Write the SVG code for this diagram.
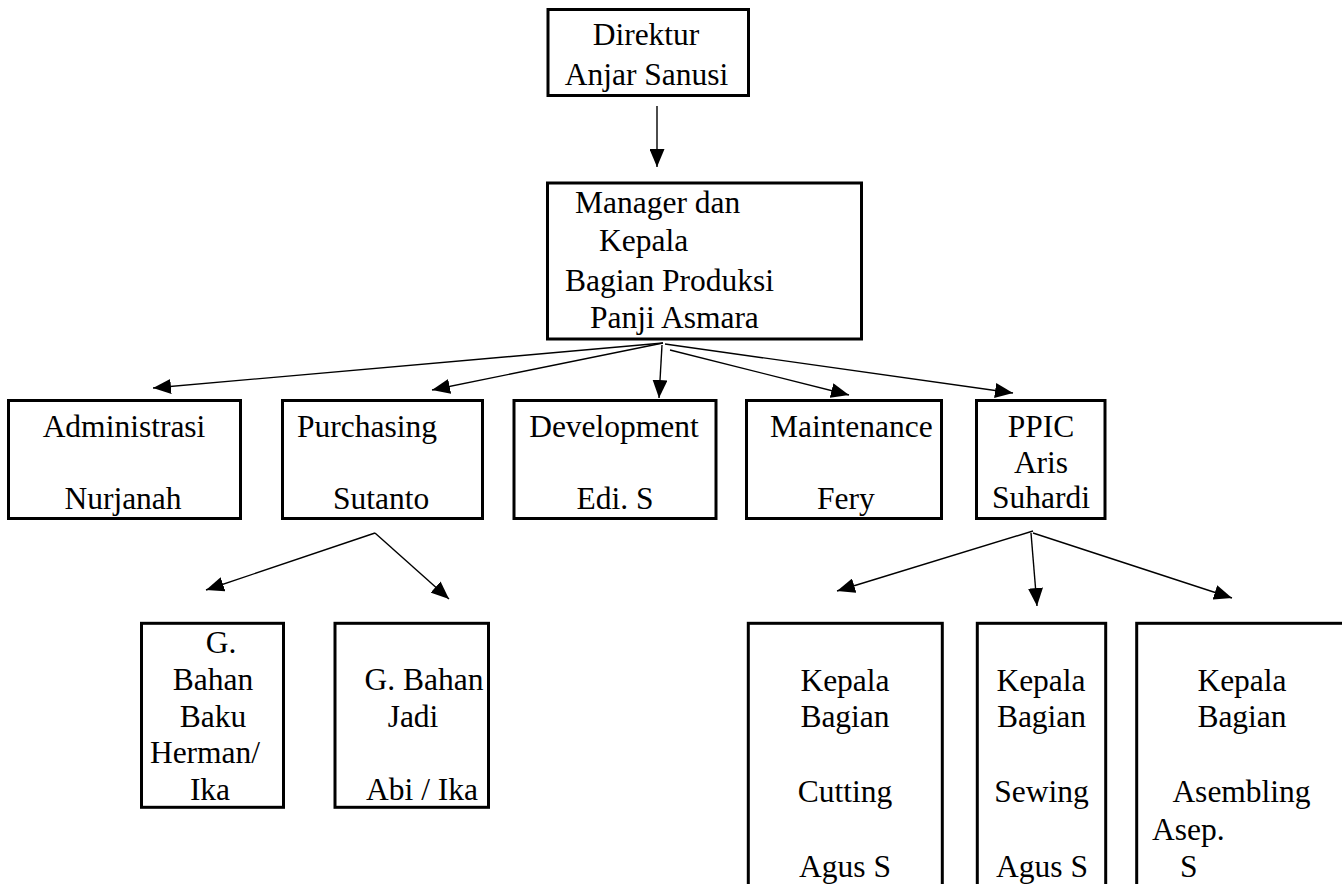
<svg xmlns="http://www.w3.org/2000/svg" width="1342" height="884" viewBox="0 0 1342 884">
<style>
.box{fill:#fff;stroke:#000;stroke-width:3}
.t{font-family:"Liberation Serif","Times New Roman",serif;font-size:31.5px;fill:#000}
.m{text-anchor:middle}
.c{fill:none;stroke:#000;stroke-width:1.4}
</style>
<defs>
<marker id="ah" markerUnits="userSpaceOnUse" markerWidth="18" markerHeight="15" refX="18" refY="7.5" orient="auto">
<path d="M0,0 L18,7.5 L0,15 z" fill="#000"/>
</marker>
</defs>
<rect width="1342" height="884" fill="#fff"/>
<g id="connectors">
<line class="c" x1="657" y1="106" x2="657" y2="167" marker-end="url(#ah)"/>
<line class="c" x1="663" y1="343" x2="153" y2="388" marker-end="url(#ah)"/>
<line class="c" x1="663" y1="343" x2="432" y2="390" marker-end="url(#ah)"/>
<line class="c" x1="662" y1="345" x2="659" y2="398" marker-end="url(#ah)"/>
<line class="c" x1="670" y1="350" x2="849" y2="395" marker-end="url(#ah)"/>
<line class="c" x1="665" y1="344" x2="1013" y2="393" marker-end="url(#ah)"/>
<line class="c" x1="375" y1="533" x2="206" y2="590" marker-end="url(#ah)"/>
<line class="c" x1="375" y1="533" x2="449" y2="599" marker-end="url(#ah)"/>
<line class="c" x1="1033" y1="531" x2="837" y2="591" marker-end="url(#ah)"/>
<line class="c" x1="1031" y1="533" x2="1037" y2="606" marker-end="url(#ah)"/>
<line class="c" x1="1033" y1="533" x2="1232" y2="598" marker-end="url(#ah)"/>
</g>
<g id="direktur">
<rect class="box" x="548" y="9.5" width="200.5" height="86"/>
<text class="t m" x="646" y="45">Direktur</text>
<text class="t m" x="646.5" y="85">Anjar Sanusi</text>
</g>
<g id="manager">
<rect class="box" x="547.5" y="183" width="314" height="156"/>
<text class="t" x="575" y="213">Manager dan</text>
<text class="t" x="599" y="251">Kepala</text>
<text class="t" x="565" y="291">Bagian Produksi</text>
<text class="t" x="590" y="328">Panji Asmara</text>
</g>
<g id="administrasi">
<rect class="box" x="8.5" y="400.5" width="232" height="118"/>
<text class="t m" x="124" y="437">Administrasi</text>
<text class="t m" x="123" y="509">Nurjanah</text>
</g>
<g id="purchasing">
<rect class="box" x="282.5" y="400.5" width="200" height="118"/>
<text class="t" x="297" y="437">Purchasing</text>
<text class="t" x="333" y="509">Sutanto</text>
</g>
<g id="development">
<rect class="box" x="514" y="400.5" width="202" height="118"/>
<text class="t m" x="614" y="437">Development</text>
<text class="t m" x="615" y="509">Edi. S</text>
</g>
<g id="maintenance">
<rect class="box" x="746.5" y="400.5" width="195" height="118"/>
<text class="t" x="770" y="437">Maintenance</text>
<text class="t" x="817" y="509">Fery</text>
</g>
<g id="ppic">
<rect class="box" x="976.5" y="400.5" width="128.5" height="118"/>
<text class="t m" x="1041" y="437">PPIC</text>
<text class="t m" x="1041" y="473">Aris</text>
<text class="t m" x="1041" y="508">Suhardi</text>
</g>
<g id="bahan-baku">
<rect class="box" x="141.5" y="623.3" width="142" height="184"/>
<text class="t m" x="221" y="653">G.</text>
<text class="t m" x="213" y="690">Bahan</text>
<text class="t m" x="213" y="727">Baku</text>
<text class="t m" x="205" y="763">Herman/</text>
<text class="t m" x="210" y="800">Ika</text>
</g>
<g id="bahan-jadi">
<rect class="box" x="335" y="623.3" width="153.5" height="184"/>
<text class="t m" x="424" y="690">G. Bahan</text>
<text class="t m" x="413" y="727">Jadi</text>
<text class="t m" x="422" y="800">Abi / Ika</text>
</g>
<g id="cutting">
<rect class="box" x="748.3" y="623.3" width="194" height="300"/>
<text class="t m" x="845" y="691">Kepala</text>
<text class="t m" x="845" y="727">Bagian</text>
<text class="t m" x="845" y="802">Cutting</text>
<text class="t m" x="845" y="877">Agus S</text>
</g>
<g id="sewing">
<rect class="box" x="977.3" y="623.3" width="128.4" height="300"/>
<text class="t m" x="1041" y="691">Kepala</text>
<text class="t m" x="1041.5" y="727">Bagian</text>
<text class="t m" x="1041.5" y="802">Sewing</text>
<text class="t m" x="1042" y="877">Agus S</text>
</g>
<g id="asembling">
<rect class="box" x="1136.7" y="623.3" width="220" height="300"/>
<text class="t m" x="1242" y="691">Kepala</text>
<text class="t m" x="1242" y="727">Bagian</text>
<text class="t m" x="1241.5" y="802">Asembling</text>
<text class="t" x="1152" y="840">Asep.</text>
<text class="t" x="1180" y="877">S</text>
</g>
</svg>
